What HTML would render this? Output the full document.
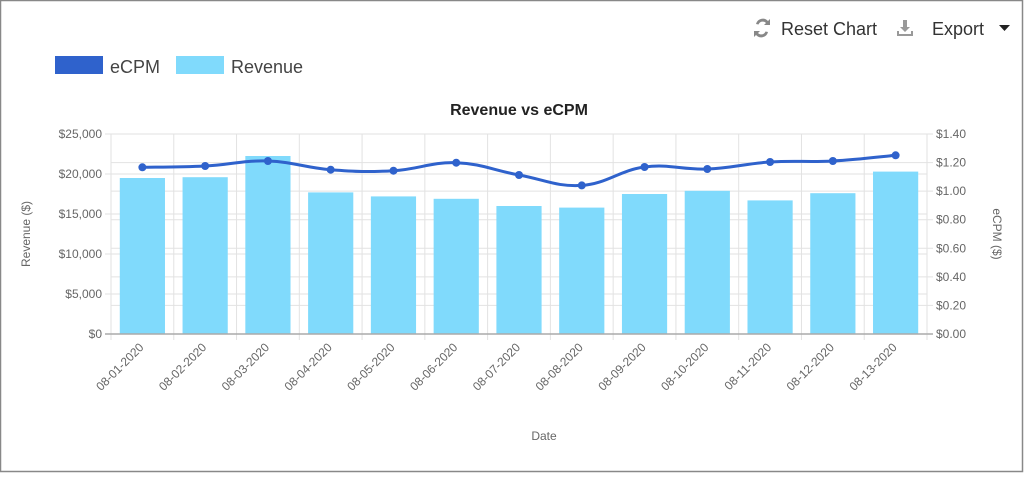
<!DOCTYPE html>
<html><head><meta charset="utf-8"><style>
html,body{margin:0;padding:0;background:#fff;}
body{width:1024px;height:473px;overflow:hidden;font-family:"Liberation Sans",sans-serif;}
svg text{font-family:"Liberation Sans",sans-serif;}
</style></head><body>
<svg id="c" width="1024" height="473" xmlns="http://www.w3.org/2000/svg">
<rect x="0.5" y="0.5" width="1022" height="471" fill="#fff" stroke="#888" stroke-width="1.5"/>
<g>
<path d="M756 24 a7 7 0 0 1 12 -3 l2 -2 v6 h-6 l2 -2 a4.5 4.5 0 0 0 -7.5 1.5z M768 32 a7 7 0 0 1 -12 3 l-2 2 v-6 h6 l-2 2 a4.5 4.5 0 0 0 7.5 -1.5z" fill="#888"/>
<text x="781" y="35" font-size="18" fill="#333">Reset Chart</text>
</g>
<g>
<path d="M903 20 h4 v7 h3 l-5 5 l-5 -5 h3z M897 31 v5 h16 v-5 h-2 v3 h-12 v-3z" fill="#999"/>
<text x="932" y="35" font-size="18" fill="#333">Export</text>
<path d="M999 25 h11 l-5.5 6z" fill="#222"/>
</g>
<g>
<rect x="55" y="56" width="48" height="18" fill="#2f62cc"/>
<text x="110" y="73" font-size="18" fill="#444">eCPM</text>
<rect x="176" y="56" width="48" height="18" fill="#80dafc"/>
<text x="231" y="73" font-size="18" fill="#444">Revenue</text>
</g>
<text x="519" y="115" font-size="16" font-weight="bold" text-anchor="middle" fill="#222">Revenue vs eCPM</text>
<g id="grid"></g><g id="bars"></g><g id="line"></g><g id="axes"></g>
<text transform="translate(30,234) rotate(-90)" font-size="12" fill="#666" text-anchor="middle">Revenue ($)</text>
<text transform="translate(993,234) rotate(90)" font-size="12" fill="#666" text-anchor="middle">eCPM ($)</text>
<text x="544" y="440" font-size="12" fill="#666" text-anchor="middle">Date</text>
</svg>
<script>
const categories=["08-01-2020","08-02-2020","08-03-2020","08-04-2020","08-05-2020","08-06-2020","08-07-2020","08-08-2020","08-09-2020","08-10-2020","08-11-2020","08-12-2020","08-13-2020"];
const revenue=[19500,19600,22250,17700,17200,16900,16000,15800,17500,17900,16700,17600,20300];
const ecpm=[1.167,1.176,1.211,1.15,1.143,1.199,1.113,1.04,1.169,1.155,1.204,1.211,1.251];
const leftTicks=[0,5000,10000,15000,20000,25000];
const rightTicks=[0,0.2,0.4,0.6,0.8,1.0,1.2,1.4];
const NS="http://www.w3.org/2000/svg";
const X0=111,X1=927,Y0=334,Y1=134,LMAX=25000,RMAX=1.4;
const band=(X1-X0)/categories.length;
function xc(i){return X0+band*(i+0.5);}
function yl(v){return Y0-(v/LMAX)*(Y0-Y1);}
function yr(v){return Y0-(v/RMAX)*(Y0-Y1);}
function mk(t,a,p){const e=document.createElementNS(NS,t);for(const k in a)e.setAttribute(k,a[k]);p.appendChild(e);return e;}
const g=document.getElementById('grid'),b=document.getElementById('bars'),l=document.getElementById('line'),ax=document.getElementById('axes');
leftTicks.forEach(v=>{
const ln=mk('line',{x1:X0-6,x2:X1,y1:yl(v),y2:yl(v),stroke:'#e2e2e2'},g);


const t=mk('text',{x:X0-9,y:yl(v)+4,'font-size':12,fill:'#666','text-anchor':'end'},ax);
t.textContent='$'+v.toLocaleString('en-US');


});
rightTicks.forEach(v=>{
const ln=mk('line',{x1:X0,x2:X1+6,y1:yr(v),y2:yr(v),stroke:'#e2e2e2'},g);


const t=mk('text',{x:X1+9,y:yr(v)+4,'font-size':12,fill:'#666'},ax);
t.textContent='$'+v.toFixed(2);


});
for(let i=0;i<=categories.length;i++){
const ln=mk('line',{x1:X0+band*i,x2:X0+band*i,y1:Y1,y2:Y0+6,stroke:'#e2e2e2'},g);


}
const bw=band*0.72;
revenue.forEach((v,i)=>{
const r=mk('rect',{x:xc(i)-bw/2,y:yl(v),width:bw,height:Y0-yl(v),fill:'#80dafc'},b);


const t=mk('text',{transform:`translate(${xc(i)+2},${Y0+14}) rotate(-45)`,'font-size':12,fill:'#666','text-anchor':'end'},ax);
t.textContent=categories[i];


});
const base=mk('line',{x1:X0-6,x2:X1+6,y1:Y0,y2:Y0,stroke:'#aaa','stroke-width':1.5},ax);


const pts=ecpm.map((v,i)=>[xc(i),yr(v)]);
let d='M'+pts[0][0]+','+pts[0][1];
for(let i=0;i<pts.length-1;i++){
const p0=pts[Math.max(0,i-1)],p1=pts[i],p2=pts[i+1],p3=pts[Math.min(pts.length-1,i+2)],k=0.2;
d+=` C${p1[0]+(p2[0]-p0[0])*k},${p1[1]+(p2[1]-p0[1])*k} ${p2[0]-(p3[0]-p1[0])*k},${p2[1]-(p3[1]-p1[1])*k} ${p2[0]},${p2[1]}`;
}
const path=mk('path',{d:d,fill:'none',stroke:'#2f62cc','stroke-width':3},l);


pts.forEach((p,i)=>{
const c=mk('circle',{cx:p[0],cy:p[1],r:4,fill:'#2f62cc'},l);


});
</script>
</body></html>
